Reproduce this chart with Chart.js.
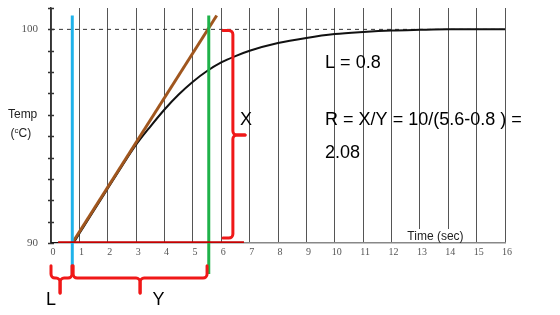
<!DOCTYPE html>
<html>
<head>
<meta charset="utf-8">
<script src="https://cdn.jsdelivr.net/npm/chart.js@4.4.1/dist/chart.umd.min.js"></script>
<style>
html, body { margin: 0; padding: 0; background: #fff; }
#wrap { width: 560px; height: 315px; }
</style>
</head>
<body>
<div id="wrap"><canvas id="chart" width="560" height="315"></canvas></div>
<script>
// step response
const curveTime = [0, 0.75, 1, 1.5, 2, 2.5, 3, 3.5, 4, 4.5, 5, 5.5, 6, 6.5, 7, 8, 9, 10, 11, 12, 13, 14, 15, 16];
const curveTemp = [90, 90, 90.45, 91.5, 92.55, 93.6, 94.6, 95.45, 96.25, 96.95, 97.55, 98.05, 98.45, 98.75, 99.0, 99.36, 99.6, 99.78, 99.88, 99.95, 99.98, 100, 100, 100];

const tangentTime = [0.75, 5.84];
const tangentTemp = [90, 100.65];

const setpointTime = [0, 16];
const setpointTemp = [100, 100];

const baseTime = [0.25, 6.8];
const baseTemp = [90, 90];

const deadTime = 0.75;      // L
const crossTime = 5.56;     // tangent reaches 100
const markerTemp = [88.55, 100.65];

const yLabels = [90, 100];

const pts = (xs, ys) => xs.map((x, i) => ({ x: x, y: ys[i] }));

function bracePath(ctx, p, r) {
    ctx.beginPath();
    ctx.moveTo(p[0][0], p[0][1]);
    for (let i = 1; i < p.length - 1; i++) {
        ctx.arcTo(p[i][0], p[i][1], p[i + 1][0], p[i + 1][1], r);
    }
    ctx.lineTo(p[p.length - 1][0], p[p.length - 1][1]);
    ctx.stroke();
}

const annotations = {
    id: 'annotations',
    afterDatasetsDraw(chart) {
        const ctx = chart.ctx;
        const xs = chart.scales.x, ys = chart.scales.y;
        const px = v => xs.getPixelForValue(v);
        const py = v => ys.getPixelForValue(v);
        ctx.save();

        // y axis ticks crossing the axis line
        ctx.strokeStyle = '#333';
        ctx.lineWidth = 1.5;
        for (let t = 90; t <= 101; t++) {
            const y = Math.round(py(t)) + 0.5;
            ctx.beginPath();
            ctx.moveTo(xs.left - 3, y);
            ctx.lineTo(xs.left + 3, y);
            ctx.stroke();
        }

        // braces
        ctx.strokeStyle = '#f01818';
        ctx.lineWidth = 3;
        ctx.lineCap = 'round';
        ctx.lineJoin = 'round';
        // X brace
        const bx = px(6.41), hook = px(6.06), tip = px(6.84);
        const top = py(99.95), mid = py(95.05), bot = py(90.23);
        bracePath(ctx, [[hook, top], [bx, top], [bx, mid], [tip, mid]], 4);
        bracePath(ctx, [[tip, mid], [bx, mid], [bx, bot], [hook, bot]], 4);
        // L and Y braces
        const endY = py(88.93), barY = py(88.36), tipY = py(87.66);
        [[0, 0.32, 0.74], [0.78, 3.14, 5.5]].forEach(b => {
            const a = px(b[0]), c = px(b[1]), d = px(b[2]);
            bracePath(ctx, [[a, endY], [a, barY], [c, barY], [c, tipY]], 4);
            bracePath(ctx, [[c, tipY], [c, barY], [d, barY], [d, endY]], 4);
        });

        // texts
        ctx.fillStyle = '#000';
        ctx.font = '18px "Liberation Sans"';
        ctx.textAlign = 'left';
        ctx.textBaseline = 'alphabetic';
        ctx.fillText('L = 0.8', px(9.66), py(98.18));
        ctx.fillText('R = X/Y = 10/(5.6-0.8 ) =', px(9.66), py(95.51));
        ctx.fillText('2.08', px(9.66), py(93.97));
        ctx.textAlign = 'center';
        ctx.fillText('X', px(6.87), py(95.51));
        ctx.fillText('L', px(0), py(87.1));
        ctx.fillText('Y', px(3.79), py(87.1));

        // axis titles
        ctx.fillStyle = '#222';
        ctx.font = '12px "Liberation Sans"';
        ctx.fillText('Temp', px(-1.0), py(95.84));
        const cy = py(94.95), cx = px(-1.06);
        const w1 = ctx.measureText('(').width, w3 = ctx.measureText('C)').width;
        ctx.font = '8px "Liberation Sans"';
        const w2 = ctx.measureText('c').width;
        let sx = cx - (w1 + w2 + w3) / 2;
        ctx.textAlign = 'left';
        ctx.font = '12px "Liberation Sans"';
        ctx.fillText('(', sx, cy);
        ctx.font = '8px "Liberation Sans"';
        ctx.fillText('c', sx + w1, cy - 4);
        ctx.font = '12px "Liberation Sans"';
        ctx.fillText('C)', sx + w1 + w2, cy);

        ctx.textAlign = 'center';
        const tx = px(13.55), ty = py(90.14);
        const tw = ctx.measureText('Time (sec)').width;
        ctx.fillStyle = '#fff';
        ctx.fillRect(tx - tw / 2 - 1, ty - 11, tw + 2, 13);
        ctx.fillStyle = '#222';
        ctx.fillText('Time (sec)', tx, ty);
        ctx.restore();
    }
};

new Chart(document.getElementById('chart').getContext('2d'), {
    type: 'scatter',
    data: {
        datasets: [
            {
                data: pts(baseTime, baseTemp),
                showLine: true,
                borderColor: '#c40000',
                borderWidth: 3.5,
                pointRadius: 0,
            },
            {
                data: pts([crossTime, crossTime], markerTemp),
                showLine: true,
                borderColor: '#1fb24a',
                borderWidth: 3,
                pointRadius: 0,
                clip: false,
            },
            {
                data: pts([deadTime, deadTime], markerTemp),
                showLine: true,
                borderColor: '#1fb2ea',
                borderWidth: 3,
                pointRadius: 0,
                clip: false,
            },
            {
                data: pts(tangentTime, tangentTemp),
                showLine: true,
                borderColor: '#a0561e',
                borderWidth: 3,
                pointRadius: 0,
            },
            {
                data: pts(curveTime, curveTemp),
                showLine: true,
                borderColor: '#111',
                borderWidth: 2,
                pointRadius: 0,
                cubicInterpolationMode: 'monotone',
            },
            {
                data: pts(setpointTime, setpointTemp),
                showLine: true,
                borderColor: '#333',
                borderWidth: 1,
                borderDash: [4, 4],
                pointRadius: 0,
            },
        ],
    },
    options: {
        responsive: false,
        animation: false,
        devicePixelRatio: 1,
        layout: { padding: { top: 8, right: 55, left: 0, bottom: 0 } },
        plugins: {
            legend: { display: false },
            tooltip: { enabled: false },
        },
        scales: {
            x: {
                type: 'linear',
                min: 0,
                max: 16,
                afterFit: (s) => {
                    s.height = 72;
                    s.paddingLeft = 0;
                    s.paddingRight = 0;
                },
                grid: {
                    display: true,
                    drawTicks: false,
                    color: '#555',
                    lineWidth: 1,
                },
                border: { display: true, color: '#888', width: 1.5 },
                ticks: {
                    stepSize: 1,
                    padding: 3,
                    labelOffset: 2,
                    color: '#555',
                    font: { size: 10, family: 'Liberation Serif' },
                },
            },
            y: {
                type: 'linear',
                min: 90,
                max: 101,
                afterFit: (s) => {
                    s.width = 51;
                    s.paddingTop = 0;
                    s.paddingBottom = 0;
                },
                grid: { display: false, drawTicks: false },
                border: { display: true, color: '#333', width: 1.5 },
                ticks: {
                    stepSize: 1,
                    padding: 13,
                    color: '#555',
                    font: { size: 11, family: 'Liberation Serif' },
                    callback: (v) => yLabels.includes(v) ? String(v) : '',
                },
            },
        },
    },
    plugins: [annotations],
});
</script>
</body>
</html>
